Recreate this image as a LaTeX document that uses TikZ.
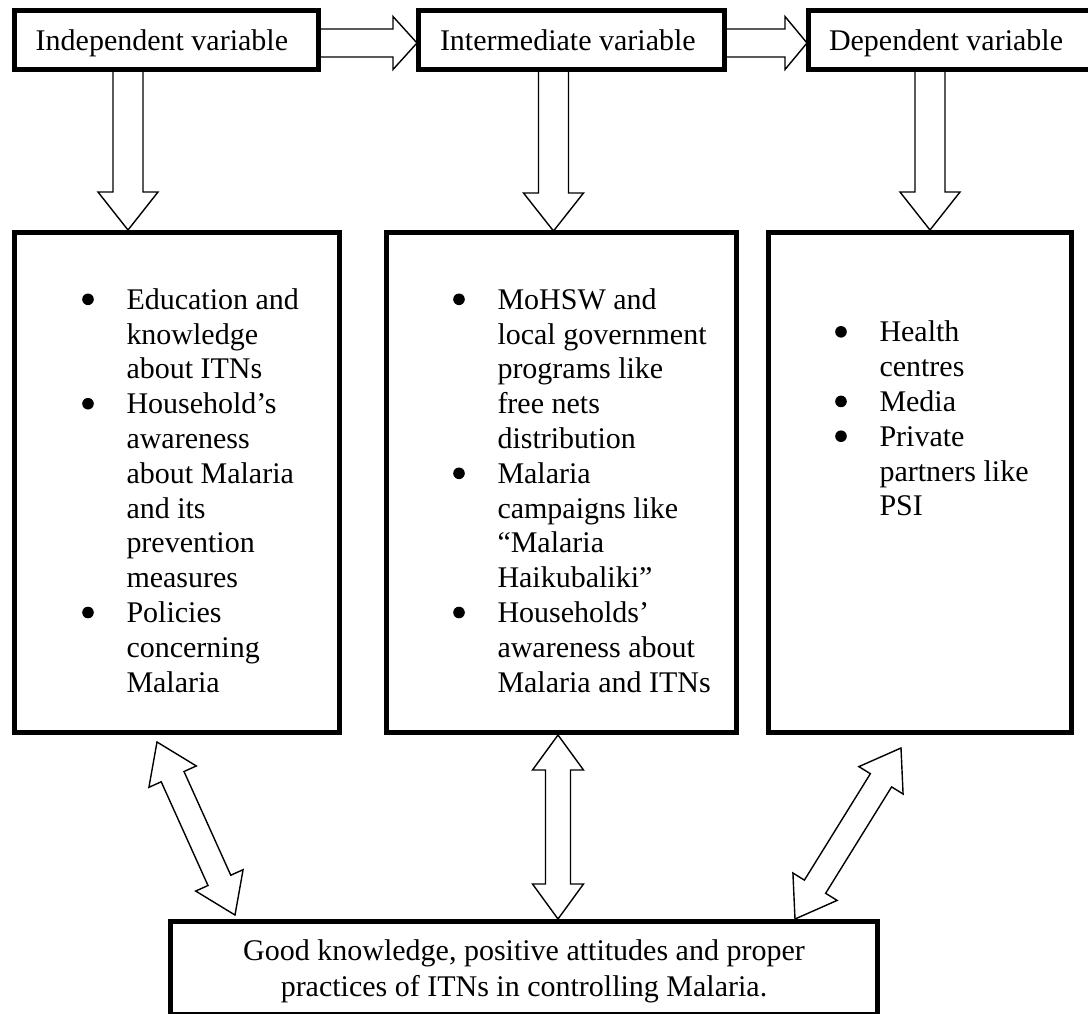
\documentclass[tikz,border=0pt]{standalone}
\usepackage{fontspec}
\setmainfont{Liberation Serif}
\usetikzlibrary{calc}
\newcommand{\bu}{\makebox[77pt]{\raisebox{4.2pt}{\tikz\fill[black] (0pt,0pt) circle (5.8pt);}}}
\newcommand{\onearrow}[5]{%
  \coordinate (hb) at ($(#2)!#5!(#1)$);
  \draw[blk] ($(#1)!#3!90:(#2)$) -- ($(hb)!#3!90:(#2)$) -- ($(hb)!#4!90:(#2)$) -- (#2)
    -- ($(hb)!#4!-90:(#2)$) -- ($(hb)!#3!-90:(#2)$) -- ($(#1)!#3!-90:(#2)$) -- cycle;}
\newcommand{\twoarrow}[5]{%
  \coordinate (ha) at ($(#1)!#5!(#2)$);
  \coordinate (hb) at ($(#2)!#5!(#1)$);
  \draw[blk] (#1) -- ($(ha)!#4!90:(#2)$) -- ($(ha)!#3!90:(#2)$) -- ($(hb)!#3!90:(#2)$)
    -- ($(hb)!#4!90:(#2)$) -- (#2) -- ($(hb)!#4!-90:(#2)$) -- ($(hb)!#3!-90:(#2)$)
    -- ($(ha)!#3!-90:(#2)$) -- ($(ha)!#4!-90:(#2)$) -- cycle;}
\begin{document}
\begin{tikzpicture}[x=1pt,y=-1pt,
  box/.style={draw=black, line width=5pt, fill=white, inner sep=0pt, outer sep=0pt},
  blk/.style={draw=black, line width=1.4pt, fill=white, line join=miter},
  txt/.style={inner sep=0pt, outer sep=0pt, font=\fontsize{30}{34.8}\selectfont},
]
\useasboundingbox[fill=white] (0,0) rectangle (1088,1013);

% connector end points
\coordinate (h1s) at (318.5,43);  \coordinate (h1e) at (417,43);
\coordinate (h2s) at (724.5,43);  \coordinate (h2e) at (807,43);
\coordinate (v1s) at (128,69.5);  \coordinate (v1e) at (128,230);
\coordinate (v2s) at (553.5,69.5);\coordinate (v2e) at (553.5,231);
\coordinate (v3s) at (930,69.5);  \coordinate (v3e) at (930,230);
\coordinate (d1a) at (157,742);   \coordinate (d1b) at (235,915);
\coordinate (d2a) at (558,735);   \coordinate (d2b) at (558,919);
\coordinate (d3a) at (901,748);   \coordinate (d3b) at (795,919);

% block arrows
\onearrow{h1s}{h1e}{14pt}{26.5pt}{24pt}
\onearrow{h2s}{h2e}{14pt}{26.5pt}{22pt}
\onearrow{v1s}{v1e}{15pt}{30pt}{38pt}
\onearrow{v2s}{v2e}{15pt}{30pt}{38pt}
\onearrow{v3s}{v3e}{15pt}{30pt}{38pt}
\twoarrow{d1a}{d1b}{12.5pt}{26pt}{38pt}
\twoarrow{d2a}{d2b}{12.5pt}{25.5pt}{35pt}
\twoarrow{d3a}{d3b}{12.5pt}{26pt}{38pt}

% boxes
\node[box, minimum width=304pt, minimum height=59pt] (indep) at (166.5,40) {};
\node[box, minimum width=306pt, minimum height=59pt] (inter) at (571.5,40) {};
\node[box, minimum width=289pt, minimum height=59pt] (dep) at (953,40) {};
\node[box, minimum width=325pt, minimum height=500pt] (boxA) at (177,482.5) {};
\node[box, minimum width=350pt, minimum height=500pt] (boxB) at (561.5,482.5) {};
\node[box, minimum width=303pt, minimum height=500pt] (boxC) at (920,482.5) {};
\node[box, minimum width=707pt, minimum height=93pt] (goal) at (524,968) {};

% labels
\node[txt, anchor=base west] (indeplbl) at (35.7,50.5) {Independent variable};
\node[txt, anchor=base west] (interlbl) at (440,50.5) {Intermediate variable};
\node[txt, anchor=base west] (deplbl) at (829,50.5) {Dependent variable};

\node[txt, anchor=base west] (listA) at (49.5,309.3) {\begin{tabular}[t]{@{}l@{}l@{}}
\bu & Education and\\
 & knowledge\\
 & about ITNs\\
\bu & Household’s\\
 & awareness\\
 & about Malaria\\
 & and its\\
 & prevention\\
 & measures\\
\bu & Policies\\
 & concerning\\
 & Malaria
\end{tabular}};

\node[txt, anchor=base west] (listB) at (420.5,309.3) {\begin{tabular}[t]{@{}l@{}l@{}}
\bu & MoHSW and\\
 & local government\\
 & programs like\\
 & free nets\\
 & distribution\\
\bu & Malaria\\
 & campaigns like\\
 & “Malaria\\
 & Haikubaliki”\\
\bu & Households’\\
 & awareness about\\
 & Malaria and ITNs
\end{tabular}};

\node[txt, anchor=base west] (listC) at (802.5,341.8) {\begin{tabular}[t]{@{}l@{}l@{}}
\bu & Health\\
 & centres\\
\bu & Media\\
\bu & Private\\
 & partners like\\
 & PSI
\end{tabular}};

\node[txt, anchor=base] (goaltxt) at (524,960.7) {\begin{tabular}[t]{@{}c@{}}
Good knowledge, positive attitudes and proper\\[1pt]
practices of ITNs in controlling Malaria.
\end{tabular}};
\end{tikzpicture}
\end{document}
